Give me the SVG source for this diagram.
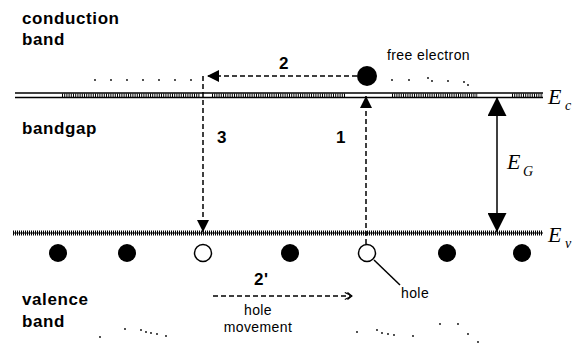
<svg xmlns="http://www.w3.org/2000/svg" width="587" height="345" viewBox="0 0 587 345">
  <style>
    .lbl { font-family: "Liberation Sans", Arial, sans-serif; font-weight: bold; font-size: 17px; letter-spacing: 0.6px; fill: #000; }
    .small { font-family: "Liberation Sans", Arial, sans-serif; font-size: 14px; letter-spacing: 0.4px; fill: #000; }
    .sym { font-family: "Liberation Serif", "Times New Roman", serif; font-style: italic; font-size: 22px; fill: #000; }
    .sub { font-family: "Liberation Serif", "Times New Roman", serif; font-style: italic; font-size: 14px; fill: #000; }
    .dash { stroke: #000; stroke-width: 1.5; stroke-dasharray: 5 3; fill: none; }
    .solid { stroke: #000; stroke-width: 1.5; fill: none; }
    .dot { fill: #000; }
    .e { fill: #000; }
    .h { fill: #fff; stroke: #000; stroke-width: 1.5; }
  </style>
  <defs>
    <marker id="head" viewBox="0 0 10 10" refX="10" refY="5" markerWidth="12" markerHeight="12" markerUnits="userSpaceOnUse" orient="auto">
      <path d="M0,0 L10,5 L0,10 Z" fill="#000"/>
    </marker>
    <marker id="bighead" viewBox="0 0 10 10" refX="10" refY="5" markerWidth="19" markerHeight="19" markerUnits="userSpaceOnUse" orient="auto">
      <path d="M0,0 L10,5 L0,10 Z" fill="#000"/>
    </marker>
    <marker id="open" viewBox="0 0 10 10" refX="9" refY="5" markerWidth="9" markerHeight="9" markerUnits="userSpaceOnUse" orient="auto">
      <path d="M1,1 L9,5 L1,9 M4,1 L9,5 L4,9" fill="none" stroke="#000" stroke-width="1.2"/>
    </marker>
  </defs>

  <!-- band edges -->
  <g id="conduction-edge">
    <line x1="15" y1="93" x2="543" y2="93" class="solid" stroke-width="1.2"/>
    <line x1="15" y1="97.5" x2="543" y2="97.5" class="solid" stroke-width="1.2"/>
    <line x1="62" y1="95.2" x2="200" y2="95.2" stroke="#000" stroke-width="3.5" stroke-dasharray="1 1.2"/>
    <line x1="212" y1="95.2" x2="345" y2="95.2" stroke="#000" stroke-width="3.5" stroke-dasharray="1 1.2"/>
    <line x1="392" y1="95.2" x2="478" y2="95.2" stroke="#000" stroke-width="3.5" stroke-dasharray="1 1.2"/>
    <line x1="512" y1="95.2" x2="543" y2="95.2" stroke="#000" stroke-width="3.5" stroke-dasharray="1 1.2"/>
  </g>
  <g id="valence-edge">
    <line x1="13" y1="233" x2="543" y2="233" stroke="#000" stroke-width="1"/>
    <line x1="13" y1="233" x2="543" y2="233" stroke="#000" stroke-width="5" stroke-dasharray="1 1"/>
  </g>

  <!-- region labels -->
  <g id="label-conduction">
    <text class="lbl" x="22" y="24">conduction</text>
    <text class="lbl" x="22" y="45">band</text>
  </g>
  <g id="label-bandgap"><text class="lbl" x="22" y="134">bandgap</text></g>
  <g id="label-valence">
    <text class="lbl" x="22" y="305">valence</text>
    <text class="lbl" x="22" y="327">band</text>
  </g>

  <!-- energy levels -->
  <g id="label-Ec"><text class="sym" x="548" y="104">E</text><text class="sub" x="565" y="110">c</text></g>
  <g id="label-Ev"><text class="sym" x="548" y="242">E</text><text class="sub" x="565" y="248">v</text></g>
  <g id="label-EG"><text class="sym" x="507" y="169">E</text><text class="sub" x="523" y="176">G</text></g>

  <!-- carriers -->
  <g id="free-electron"><circle class="e" cx="367" cy="76" r="10"/></g>
  <g id="valence-electrons">
    <circle class="e" cx="58" cy="253" r="9"/>
    <circle class="e" cx="127" cy="253" r="9"/>
    <circle class="e" cx="290" cy="253" r="9"/>
    <circle class="e" cx="447" cy="253" r="9"/>
    <circle class="e" cx="522" cy="253" r="9"/>
  </g>
  <g id="holes">
    <circle class="h" cx="203" cy="253" r="8.5"/>
    <circle class="h" cx="367" cy="253" r="8.5"/>
  </g>

  <!-- transitions -->
  <g id="connectors">
    <line class="dash" x1="366" y1="244" x2="366" y2="96" marker-end="url(#head)"/>
    <line class="dash" x1="357" y1="76" x2="207" y2="76" marker-end="url(#head)"/>
    <line class="dash" x1="203" y1="76" x2="203" y2="232" marker-end="url(#head)"/>
    <line class="solid" x1="497" y1="165" x2="497" y2="97" marker-end="url(#bighead)"/>
    <line class="solid" x1="497" y1="165" x2="497" y2="232" marker-end="url(#bighead)"/>
    <line class="dash" stroke-width="1.2" stroke-dasharray="3 2" x1="213" y1="296" x2="352" y2="296" marker-end="url(#open)"/>
    <line class="solid" stroke-width="1" x1="374" y1="260" x2="400" y2="285"/>
  </g>

  <g id="step-labels">
    <text class="lbl" x="279" y="69">2</text>
    <text class="lbl" x="217" y="143">3</text>
    <text class="lbl" x="336" y="143">1</text>
    <text class="lbl" x="254" y="285">2'</text>
  </g>
  <g id="text-labels">
    <text class="small" x="387" y="60">free electron</text>
    <text class="small" x="401" y="298">hole</text>
    <text class="small" x="258" y="315" text-anchor="middle">hole</text>
    <text class="small" x="258" y="332" text-anchor="middle">movement</text>
  </g>

  <!-- scattered dots -->
  <g id="dots">
    <circle class="dot" cx="95" cy="80" r="0.9"/>
    <circle class="dot" cx="111" cy="80" r="0.9"/>
    <circle class="dot" cx="127" cy="80" r="0.9"/>
    <circle class="dot" cx="143" cy="80" r="0.9"/>
    <circle class="dot" cx="159" cy="80" r="0.9"/>
    <circle class="dot" cx="175" cy="80" r="0.9"/>
    <circle class="dot" cx="191" cy="80" r="0.9"/>
    <circle class="dot" cx="392" cy="80" r="0.9"/>
    <circle class="dot" cx="409" cy="80" r="0.9"/>
    <circle class="dot" cx="428" cy="78" r="0.9"/>
    <circle class="dot" cx="432" cy="81" r="0.9"/>
    <circle class="dot" cx="448" cy="81" r="0.9"/>
    <circle class="dot" cx="464" cy="82" r="0.9"/>
    <circle class="dot" cx="468" cy="85" r="0.9"/>
    <circle class="dot" cx="100" cy="337" r="0.9"/>
    <circle class="dot" cx="125" cy="329" r="0.9"/>
    <circle class="dot" cx="141" cy="330" r="0.9"/>
    <circle class="dot" cx="146" cy="332" r="0.9"/>
    <circle class="dot" cx="151" cy="333" r="0.9"/>
    <circle class="dot" cx="157" cy="334" r="0.9"/>
    <circle class="dot" cx="166" cy="336" r="0.9"/>
    <circle class="dot" cx="357" cy="332" r="0.9"/>
    <circle class="dot" cx="377" cy="330" r="0.9"/>
    <circle class="dot" cx="382" cy="333" r="0.9"/>
    <circle class="dot" cx="388" cy="334" r="0.9"/>
    <circle class="dot" cx="394" cy="335" r="0.9"/>
    <circle class="dot" cx="413" cy="336" r="0.9"/>
    <circle class="dot" cx="440" cy="324" r="0.9"/>
    <circle class="dot" cx="458" cy="324" r="0.9"/>
    <circle class="dot" cx="468" cy="334" r="0.9"/>
    <circle class="dot" cx="478" cy="342" r="0.9"/>
  </g>
</svg>
